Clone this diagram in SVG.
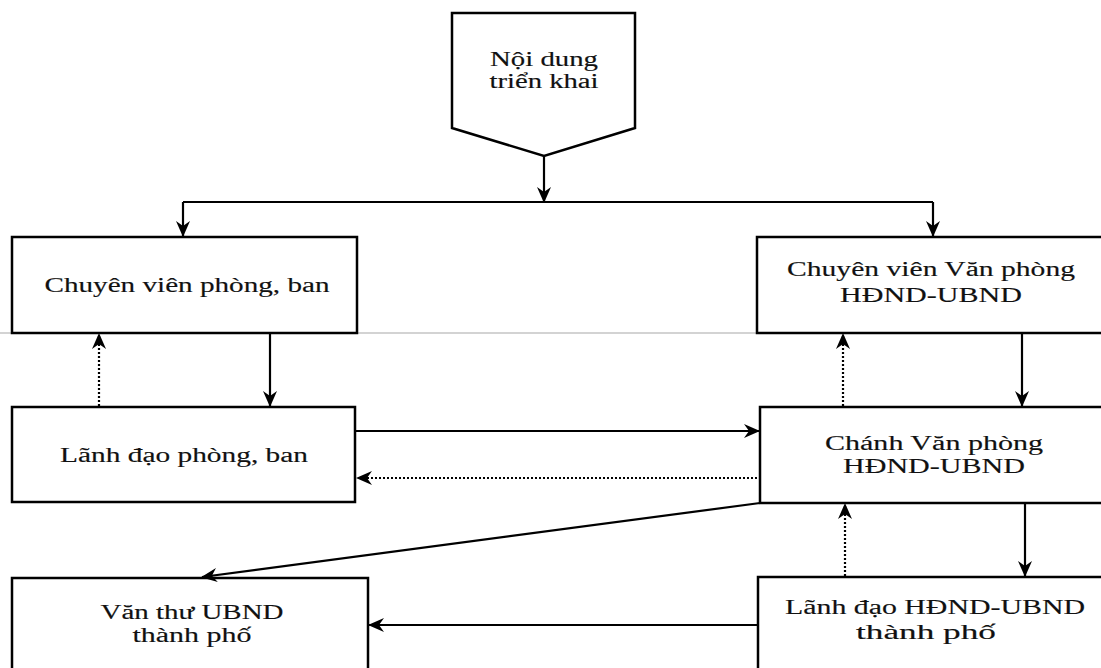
<svg xmlns="http://www.w3.org/2000/svg" width="1101" height="668" viewBox="0 0 1101 668">
<style>
.box{fill:#fff;stroke:#000;stroke-width:2.5}
.t{font-family:"Liberation Serif","Times New Roman",serif;font-size:20px;fill:#111;stroke:#111;stroke-width:0.15;text-anchor:middle}
.c{fill:none;stroke:#000;stroke-width:2.2}
.d{fill:none;stroke:#000;stroke-width:2.2;stroke-dasharray:2,2}
</style>
<defs>
<marker id="ah" viewBox="0 0 16 14" refX="15" refY="7" markerWidth="16" markerHeight="14" markerUnits="userSpaceOnUse" orient="auto">
<path d="M0,0 L16,7 L0,14 L5,7 z" fill="#000"/>
</marker>
</defs>
<rect width="1101" height="668" fill="#fff"/>
<line x1="0" y1="333" x2="1101" y2="333" stroke="#c4c4c4" stroke-width="1.5"/>
<g id="n-noidung">
<polygon class="box" points="452,13 635,13 635,128 544,156 452,128"/>
<text class="t" x="544" y="66" textLength="108" lengthAdjust="spacingAndGlyphs">Nội dung</text>
<text class="t" x="544" y="88" textLength="109" lengthAdjust="spacingAndGlyphs">triển khai</text>
</g>
<g id="n-cvpb">
<rect class="box" x="12" y="237" width="345" height="96"/>
<text class="t" x="187" y="292" textLength="285" lengthAdjust="spacingAndGlyphs">Chuyên viên phòng, ban</text>
</g>
<g id="n-cvvp">
<rect class="box" x="757" y="237" width="360" height="96"/>
<text class="t" x="931" y="276" textLength="288" lengthAdjust="spacingAndGlyphs">Chuyên viên Văn phòng</text>
<text class="t" x="931" y="302" textLength="182" lengthAdjust="spacingAndGlyphs">HĐND-UBND</text>
</g>
<g id="n-ldpb">
<rect class="box" x="12" y="407" width="343" height="95"/>
<text class="t" x="184" y="462" textLength="248" lengthAdjust="spacingAndGlyphs">Lãnh đạo phòng, ban</text>
</g>
<g id="n-cvp">
<rect class="box" x="760" y="407" width="360" height="96"/>
<text class="t" x="934" y="450" textLength="218" lengthAdjust="spacingAndGlyphs">Chánh Văn phòng</text>
<text class="t" x="934" y="473" textLength="182" lengthAdjust="spacingAndGlyphs">HĐND-UBND</text>
</g>
<g id="n-vanthu">
<rect class="box" x="12" y="578" width="356" height="100"/>
<text class="t" x="192" y="619" textLength="183" lengthAdjust="spacingAndGlyphs">Văn thư UBND</text>
<text class="t" x="192" y="642" textLength="119" lengthAdjust="spacingAndGlyphs">thành phố</text>
</g>
<g id="n-ldhd">
<rect class="box" x="758" y="577" width="360" height="100"/>
<text class="t" x="935" y="614" textLength="300" lengthAdjust="spacingAndGlyphs">Lãnh đạo HĐND-UBND</text>
<text class="t" x="926" y="639" textLength="140" lengthAdjust="spacingAndGlyphs">thành phố</text>
</g>
<g id="connectors">
<line class="c" x1="544" y1="156" x2="544" y2="202" marker-end="url(#ah)"/>
<line class="c" x1="183" y1="202" x2="933" y2="202"/>
<line class="c" x1="183" y1="202" x2="183" y2="236" marker-end="url(#ah)"/>
<line class="c" x1="933" y1="202" x2="933" y2="236" marker-end="url(#ah)"/>
<line class="c" x1="270" y1="333" x2="270" y2="406" marker-end="url(#ah)"/>
<line class="d" x1="99" y1="406" x2="99" y2="334" marker-end="url(#ah)"/>
<line class="c" x1="1022" y1="333" x2="1022" y2="406" marker-end="url(#ah)"/>
<line class="d" x1="843" y1="406" x2="843" y2="334" marker-end="url(#ah)"/>
<line class="c" x1="355" y1="431" x2="759" y2="431" marker-end="url(#ah)"/>
<line class="d" x1="757" y1="478" x2="357" y2="478" marker-end="url(#ah)"/>
<line class="c" x1="760" y1="503" x2="202" y2="577" marker-end="url(#ah)"/>
<line class="c" x1="1025" y1="503" x2="1025" y2="576" marker-end="url(#ah)"/>
<line class="d" x1="845" y1="576" x2="845" y2="504" marker-end="url(#ah)"/>
<line class="c" x1="757" y1="625" x2="369" y2="625" marker-end="url(#ah)"/>
</g>
</svg>
